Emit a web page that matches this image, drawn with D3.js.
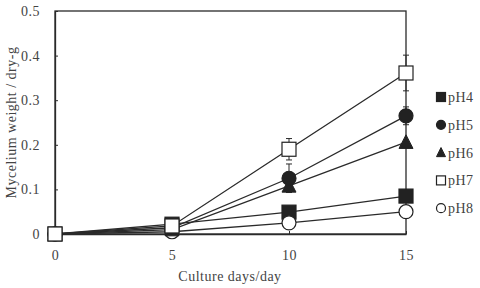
<!DOCTYPE html>
<html><head><meta charset="utf-8">
<script src="https://cdn.jsdelivr.net/npm/d3@7"></script>
<style>body{margin:0;background:#fff}svg{display:block}text{font-family:"Liberation Serif","DejaVu Serif",serif;fill:#444;letter-spacing:0.5px}</style>
</head><body><svg id="c" width="480" height="288"></svg>
<script>
const days = [0, 5, 10, 15];
const seriesNames = ["pH4", "pH5", "pH6", "pH7", "pH8"];
const pH4 = [0, 0.022, 0.049, 0.085];
const pH5 = [0, 0.014, 0.125, 0.265];
const pH6 = [0, 0.010, 0.108, 0.206];
const pH7 = [0, 0.018, 0.190, 0.361];
const pH8 = [0, 0.005, 0.025, 0.050];
const err4 = [0, 0, 0, 0];
const err5 = [0, 0, 0.032, 0.02];
const err6 = [0, 0, 0, 0];
const err7 = [0, 0, 0.024, 0.04];
const err8 = [0, 0, 0, 0];
const yTicks = [0, 0.1, 0.2, 0.3, 0.4, 0.5];
const xTicks = [0, 5, 10, 15];

const values = [pH4, pH5, pH6, pH7, pH8];
const errs = [err4, err5, err6, err7, err8];
const shapes = ["square", "circle", "triangle", "square", "circle"];
const filled = [true, true, true, false, false];

const svg = d3.select("#c");
const L = 55, R = 406, T = 11, B = 234;
const x = d3.scaleLinear().domain([0, 15]).range([L, R]);
const y = d3.scaleLinear().domain([0, 0.5]).range([B, T]);
const ink = "#2a2a2a";
const FS = 14;

svg.append("rect").attr("x", L).attr("y", T).attr("width", R - L).attr("height", B - T)
  .attr("fill", "none").attr("stroke", ink).attr("stroke-width", 1.3);

const ya = svg.append("g").attr("transform", `translate(${L},0)`)
  .call(d3.axisLeft(y).tickValues(yTicks).tickSizeInner(-3).tickSizeOuter(0)
    .tickFormat(d => d === 0 ? "0" : d3.format(".1f")(d)).tickPadding(15));
const xa = svg.append("g").attr("transform", `translate(0,${B})`)
  .call(d3.axisBottom(x).tickValues(xTicks).tickSizeInner(-3).tickSizeOuter(0).tickPadding(16));
[ya, xa].forEach(g => {
  g.select(".domain").attr("stroke", ink).attr("stroke-width", 1.3);
  g.selectAll(".tick line").attr("stroke", ink);
  g.selectAll("text").attr("font-size", FS).attr("fill", "#444")
    .attr("font-family", '"Liberation Serif","DejaVu Serif",serif');
});

const line = d3.line().x((d, i) => x(days[i])).y(d => y(d));
values.forEach(v => {
  svg.append("path").attr("d", line(v)).attr("fill", "none").attr("stroke", ink).attr("stroke-width", 1.3);
});

values.forEach((v, k) => {
  v.forEach((d, i) => {
    const e = errs[k][i];
    if (!e) return;
    const cx = x(days[i]);
    svg.append("line").attr("x1", cx).attr("x2", cx).attr("y1", y(d - e)).attr("y2", y(d + e)).attr("stroke", ink).attr("stroke-width", 1);
    [d - e, d + e].forEach(vv => svg.append("line").attr("x1", cx - 3).attr("x2", cx + 3)
      .attr("y1", y(vv)).attr("y2", y(vv)).attr("stroke", ink).attr("stroke-width", 1));
  });
});

function marker(g, shape, fill, cx, cy, s) {
  const f = fill ? "#222" : "#fff";
  if (shape === "square") {
    g.append("rect").attr("x", cx - s / 2).attr("y", cy - s / 2).attr("width", s).attr("height", s)
      .attr("fill", f).attr("stroke", "#222").attr("stroke-width", 1.2);
  } else if (shape === "circle") {
    g.append("circle").attr("cx", cx).attr("cy", cy).attr("r", s / 2)
      .attr("fill", f).attr("stroke", "#222").attr("stroke-width", 1.2);
  } else {
    const h = s * 0.9;
    g.append("path").attr("d", `M${cx},${cy - h / 2 - 1}L${cx + s / 2},${cy + h / 2}L${cx - s / 2},${cy + h / 2}Z`)
      .attr("fill", f).attr("stroke", "#222").attr("stroke-width", 1);
  }
}

const order = [0, 4, 2, 1, 3];
order.forEach(k => {
  values[k].forEach((d, i) => marker(svg, shapes[k], filled[k], x(days[i]), y(d), 14));
});

seriesNames.forEach((n, k) => {
  const ly = 97 + 27.8 * k;
  marker(svg, shapes[k], filled[k], 441, ly, 9);
  svg.append("text").attr("x", 448).attr("y", ly + 5).attr("font-size", FS).text(n);
});

svg.append("text").attr("x", 230).attr("y", 281).attr("text-anchor", "middle").attr("font-size", FS)
  .text("Culture days/day");
svg.append("text").attr("transform", `translate(16,${(T + B) / 2}) rotate(-90)`)
  .attr("text-anchor", "middle").attr("font-size", FS).text("Mycelium weight / dry-g");
</script></body></html>
